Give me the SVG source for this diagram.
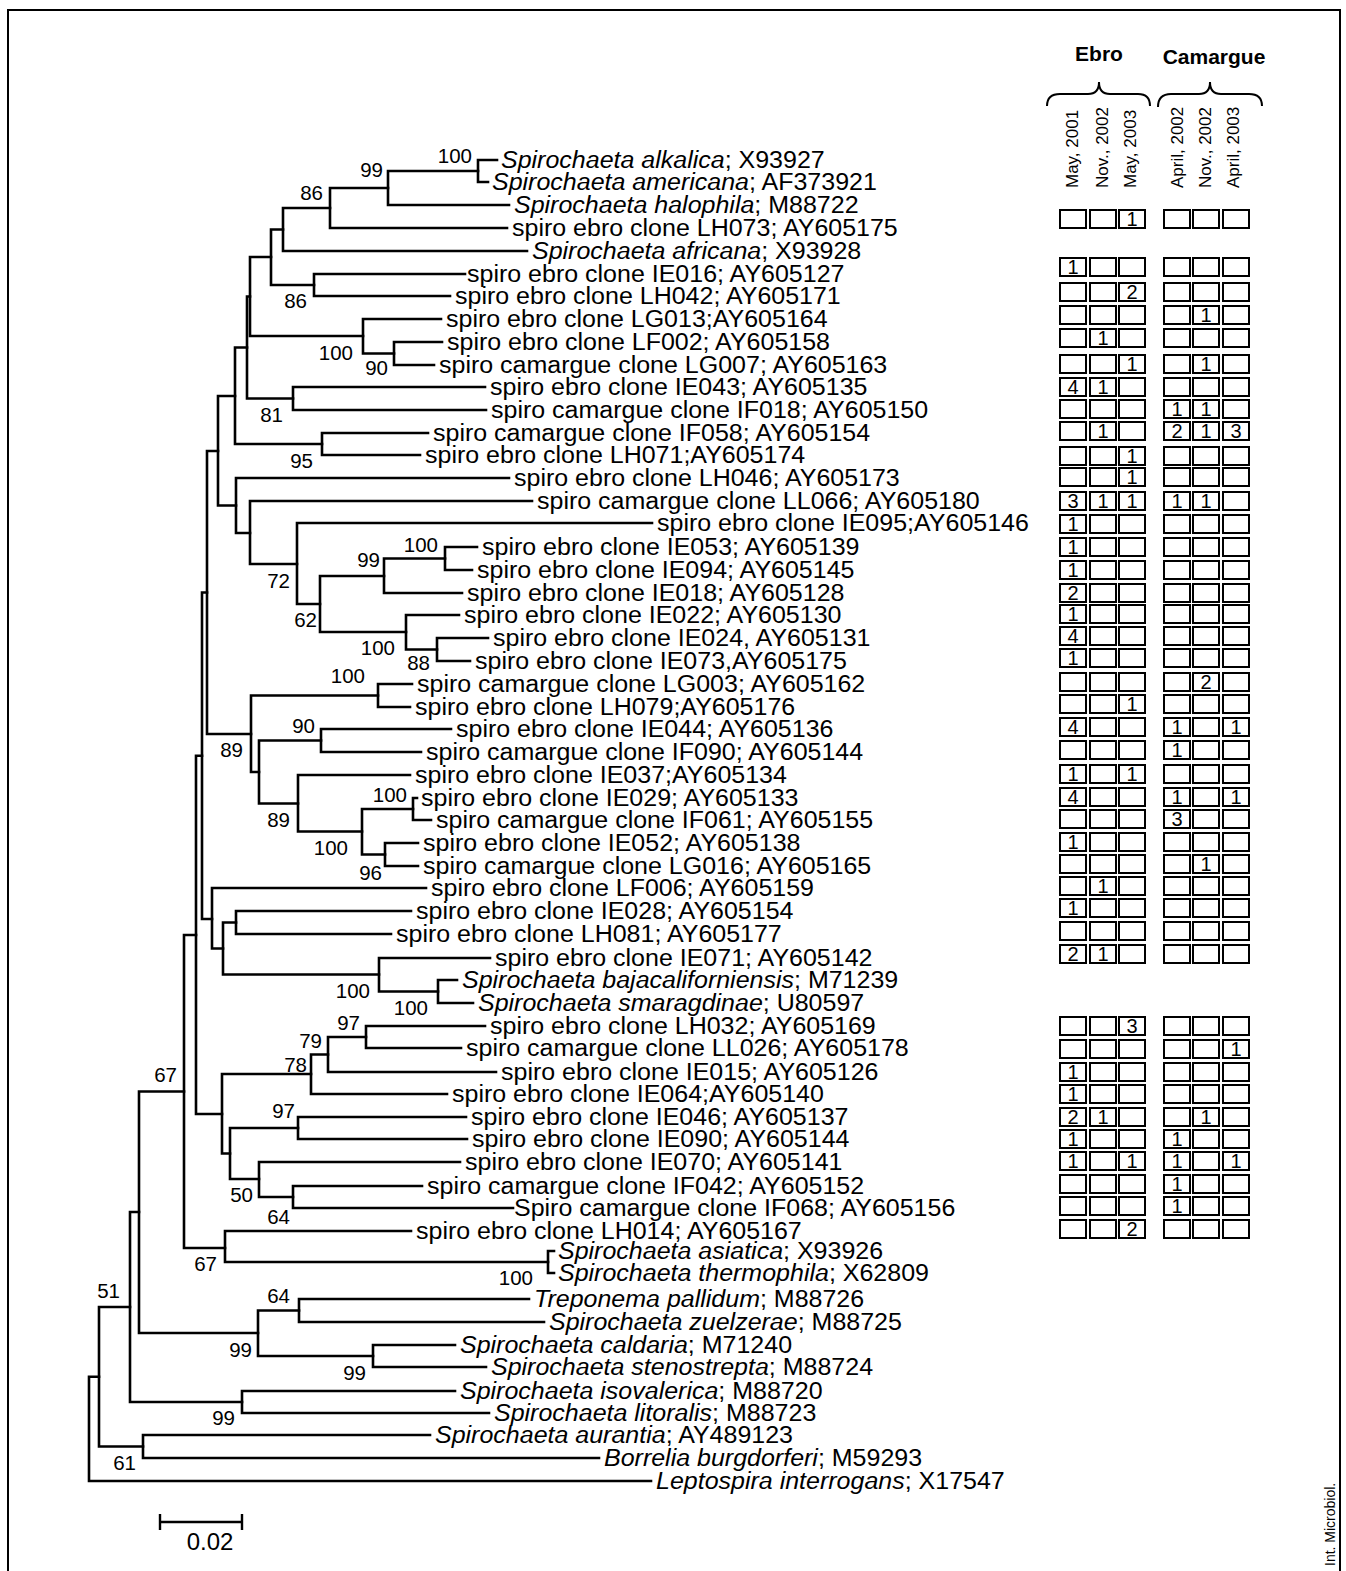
<svg xmlns="http://www.w3.org/2000/svg" xmlns:xlink="http://www.w3.org/1999/xlink" width="1346" height="1571" viewBox="0 0 1346 1571">
<style>
text { font-family: "Liberation Sans", Arial, Helvetica, sans-serif; fill: #000; }
.lf { font-size: 23.5px; }
.it { font-style: italic; }
.bs { font-size: 20.5px; text-anchor: end; }
.tree path { stroke: #000; stroke-width: 2.6; fill: none; stroke-linecap: square; }
.box { fill: #fff; stroke: #000; stroke-width: 2; }
.cnt { font-size: 20px; text-anchor: middle; }
.hd { font-size: 21px; font-weight: bold; text-anchor: middle; }
.col { font-size: 17px; }
.frame { fill: none; stroke: #000; stroke-width: 2; }
</style>
<defs>
<g id="row">
<rect class="box" x="1060" y="-9" width="26" height="18"/>
<rect class="box" x="1090" y="-9" width="26" height="18"/>
<rect class="box" x="1119" y="-9" width="26" height="18"/>
<rect class="box" x="1164" y="-9" width="26" height="18"/>
<rect class="box" x="1193" y="-9" width="26" height="18"/>
<rect class="box" x="1223" y="-9" width="26" height="18"/>
</g>
</defs>
<rect width="1346" height="1571" fill="#fff"/>
<path class="frame" d="M8 1571V10H1340V1571"/>

<g id="connectors" class="tree">
<path d="M478 160V182M478 160H497M478 182H488"/>
<path d="M388 171V205M388 171H478M388 205H509"/>
<path d="M330 188V228M330 188H388M330 228H507"/>
<path d="M283 208V251M283 208H330M283 251H527"/>
<path d="M271 229.5V285M271 229.5H283M271 285H314"/>
<path d="M314 274V296M314 274H465M314 296H450"/>
<path d="M250 257V336M250 257H271M250 336H363"/>
<path d="M363 319V353.5M363 319H441M363 353.5H394"/>
<path d="M394 342V365M394 342H442M394 365H434"/>
<path d="M247 296.5V398.5M247 296.5H250M247 398.5H293"/>
<path d="M293 387V410M293 387H485M293 410H486"/>
<path d="M235 347.5V444M235 347.5H247M235 444H322"/>
<path d="M322 433V455M322 433H428M322 455H420"/>
<path d="M218 396V505.5M218 396H235M218 505.5H236"/>
<path d="M236 478V533M236 478H509M236 533H250"/>
<path d="M250 501V564M250 501H532M250 564H297"/>
<path d="M297 523V604M297 523H652M297 604H320"/>
<path d="M320 576V632M320 576H384M320 632H406"/>
<path d="M384 558.5V593M384 558.5H445M384 593H462"/>
<path d="M445 547V570M445 547H477M445 570H472"/>
<path d="M406 615V649.5M406 615H459M406 649.5H437"/>
<path d="M437 638V661M437 638H488M437 661H470"/>
<path d="M207 451V734M207 451H218M207 734H251"/>
<path d="M251 695.5V772M251 695.5H378M251 772H259"/>
<path d="M378 684V707M378 684H412M378 707H410"/>
<path d="M259 740.5V803.5M259 740.5H321M259 803.5H298"/>
<path d="M321 729V752M321 729H451M321 752H421"/>
<path d="M298 775V831.5M298 775H410M298 831.5H362"/>
<path d="M362 809V854.5M362 809H413M362 854.5H385"/>
<path d="M413 798V820M413 798H417M413 820H431"/>
<path d="M385 843V866M385 843H418M385 866H418"/>
<path d="M202 592.5V919M202 592.5H207M202 919H212"/>
<path d="M212 888V948.5M212 888H426M212 948.5H223"/>
<path d="M223 922.5V974.5M223 922.5H236M223 974.5H379"/>
<path d="M236 911V934M236 911H411M236 934H391"/>
<path d="M379 958V991.5M379 958H490M379 991.5H438"/>
<path d="M438 980V1003M438 980H457M438 1003H473"/>
<path d="M196 755.75V1114M196 755.75H202M196 1114H222"/>
<path d="M222 1074V1153.5M222 1074H311M222 1153.5H230"/>
<path d="M311 1054.5V1094M311 1054.5H328M311 1094H447"/>
<path d="M328 1037V1072M328 1037H366M328 1072H496"/>
<path d="M366 1026V1048M366 1026H485M366 1048H461"/>
<path d="M230 1128V1179M230 1128H298M230 1179H259"/>
<path d="M298 1117V1139M298 1117H466M298 1139H467"/>
<path d="M259 1162V1197M259 1162H460M259 1197H293"/>
<path d="M293 1186V1208M293 1186H422M293 1208H513"/>
<path d="M184 935V1248M184 935H196M184 1248H225"/>
<path d="M225 1231V1262M225 1231H411M225 1262H548"/>
<path d="M548 1251V1273M548 1251H554M548 1273H554"/>
<path d="M139 1091.5V1333M139 1091.5H184M139 1333H258"/>
<path d="M258 1310.5V1356M258 1310.5H299M258 1356H373"/>
<path d="M299 1299V1322M299 1299H529M299 1322H544"/>
<path d="M373 1345V1367M373 1345H455M373 1367H486"/>
<path d="M130 1212V1402M130 1212H139M130 1402H242"/>
<path d="M242 1391V1413M242 1391H455M242 1413H489"/>
<path d="M99 1307V1446.5M99 1307H130M99 1446.5H143"/>
<path d="M143 1435V1458M143 1435H430M143 1458H599"/>
<path d="M89 1376.75V1481M89 1376.75H99M89 1481H651"/>
</g>

<g id="bootstrap" class="bs">
<text x="472" y="163">100</text>
<text x="383" y="177">99</text>
<text x="323" y="200">86</text>
<text x="307" y="308">86</text>
<text x="353" y="360">100</text>
<text x="388" y="375">90</text>
<text x="283" y="422">81</text>
<text x="313" y="468">95</text>
<text x="438" y="552">100</text>
<text x="380" y="567">99</text>
<text x="290" y="588">72</text>
<text x="317" y="627">62</text>
<text x="395" y="655">100</text>
<text x="430" y="670">88</text>
<text x="365" y="683">100</text>
<text x="315" y="733">90</text>
<text x="243" y="757">89</text>
<text x="407" y="802">100</text>
<text x="290" y="827">89</text>
<text x="348" y="855">100</text>
<text x="382" y="880">96</text>
<text x="370" y="998">100</text>
<text x="428" y="1015">100</text>
<text x="360" y="1030">97</text>
<text x="322" y="1048">79</text>
<text x="307" y="1072">78</text>
<text x="177" y="1082">67</text>
<text x="295" y="1118">97</text>
<text x="253" y="1202">50</text>
<text x="290" y="1224">64</text>
<text x="217" y="1271">67</text>
<text x="533" y="1285">100</text>
<text x="120" y="1298">51</text>
<text x="290" y="1303">64</text>
<text x="252" y="1357">99</text>
<text x="366" y="1380">99</text>
<text x="235" y="1425">99</text>
<text x="136" y="1470">61</text>
</g>

<g id="leaves" class="lf">
<g id="leaf01"><text transform="translate(501,168) scale(1.064,1)"><tspan class="it">Spirochaeta alkalica</tspan>; X93927</text></g>
<g id="leaf02"><text transform="translate(492,190) scale(1.064,1)"><tspan class="it">Spirochaeta americana</tspan>; AF373921</text></g>
<g id="leaf03"><text transform="translate(514,213) scale(1.064,1)"><tspan class="it">Spirochaeta halophila</tspan>; M88722</text></g>
<g id="leaf04"><text transform="translate(512,236) scale(1.064,1)">spiro ebro clone LH073; AY605175</text></g>
<g id="leaf05"><text transform="translate(532,259) scale(1.064,1)"><tspan class="it">Spirochaeta africana</tspan>; X93928</text></g>
<g id="leaf06"><text transform="translate(467,282) scale(1.064,1)">spiro ebro clone IE016; AY605127</text></g>
<g id="leaf07"><text transform="translate(455,304) scale(1.064,1)">spiro ebro clone LH042; AY605171</text></g>
<g id="leaf08"><text transform="translate(446,327) scale(1.064,1)">spiro ebro clone LG013;AY605164</text></g>
<g id="leaf09"><text transform="translate(447,350) scale(1.064,1)">spiro ebro clone LF002; AY605158</text></g>
<g id="leaf10"><text transform="translate(439,373) scale(1.064,1)">spiro camargue clone LG007; AY605163</text></g>
<g id="leaf11"><text transform="translate(490,395) scale(1.064,1)">spiro ebro clone IE043; AY605135</text></g>
<g id="leaf12"><text transform="translate(491,418) scale(1.064,1)">spiro camargue clone IF018; AY605150</text></g>
<g id="leaf13"><text transform="translate(433,441) scale(1.064,1)">spiro camargue clone IF058; AY605154</text></g>
<g id="leaf14"><text transform="translate(425,463) scale(1.064,1)">spiro ebro clone LH071;AY605174</text></g>
<g id="leaf15"><text transform="translate(514,486) scale(1.064,1)">spiro ebro clone LH046; AY605173</text></g>
<g id="leaf16"><text transform="translate(537,509) scale(1.064,1)">spiro camargue clone LL066; AY605180</text></g>
<g id="leaf17"><text transform="translate(657,531) scale(1.064,1)">spiro ebro clone IE095;AY605146</text></g>
<g id="leaf18"><text transform="translate(482,555) scale(1.064,1)">spiro ebro clone IE053; AY605139</text></g>
<g id="leaf19"><text transform="translate(477,578) scale(1.064,1)">spiro ebro clone IE094; AY605145</text></g>
<g id="leaf20"><text transform="translate(467,601) scale(1.064,1)">spiro ebro clone IE018; AY605128</text></g>
<g id="leaf21"><text transform="translate(464,623) scale(1.064,1)">spiro ebro clone IE022; AY605130</text></g>
<g id="leaf22"><text transform="translate(493,646) scale(1.064,1)">spiro ebro clone IE024, AY605131</text></g>
<g id="leaf23"><text transform="translate(475,669) scale(1.064,1)">spiro ebro clone IE073,AY605175</text></g>
<g id="leaf24"><text transform="translate(417,692) scale(1.064,1)">spiro camargue clone LG003; AY605162</text></g>
<g id="leaf25"><text transform="translate(415,715) scale(1.064,1)">spiro ebro clone LH079;AY605176</text></g>
<g id="leaf26"><text transform="translate(456,737) scale(1.064,1)">spiro ebro clone IE044; AY605136</text></g>
<g id="leaf27"><text transform="translate(426,760) scale(1.064,1)">spiro camargue clone IF090; AY605144</text></g>
<g id="leaf28"><text transform="translate(415,783) scale(1.064,1)">spiro ebro clone IE037;AY605134</text></g>
<g id="leaf29"><text transform="translate(421,806) scale(1.064,1)">spiro ebro clone IE029; AY605133</text></g>
<g id="leaf30"><text transform="translate(436,828) scale(1.064,1)">spiro camargue clone IF061; AY605155</text></g>
<g id="leaf31"><text transform="translate(423,851) scale(1.064,1)">spiro ebro clone IE052; AY605138</text></g>
<g id="leaf32"><text transform="translate(423,874) scale(1.064,1)">spiro camargue clone LG016; AY605165</text></g>
<g id="leaf33"><text transform="translate(431,896) scale(1.064,1)">spiro ebro clone LF006; AY605159</text></g>
<g id="leaf34"><text transform="translate(416,919) scale(1.064,1)">spiro ebro clone IE028; AY605154</text></g>
<g id="leaf35"><text transform="translate(396,942) scale(1.064,1)">spiro ebro clone LH081; AY605177</text></g>
<g id="leaf36"><text transform="translate(495,966) scale(1.064,1)">spiro ebro clone IE071; AY605142</text></g>
<g id="leaf37"><text transform="translate(462,988) scale(1.064,1)"><tspan class="it">Spirochaeta bajacaliforniensis</tspan>; M71239</text></g>
<g id="leaf38"><text transform="translate(478,1011) scale(1.064,1)"><tspan class="it">Spirochaeta smaragdinae</tspan>; U80597</text></g>
<g id="leaf39"><text transform="translate(490,1034) scale(1.064,1)">spiro ebro clone LH032; AY605169</text></g>
<g id="leaf40"><text transform="translate(466,1056) scale(1.064,1)">spiro camargue clone LL026; AY605178</text></g>
<g id="leaf41"><text transform="translate(501,1080) scale(1.064,1)">spiro ebro clone IE015; AY605126</text></g>
<g id="leaf42"><text transform="translate(452,1102) scale(1.064,1)">spiro ebro clone IE064;AY605140</text></g>
<g id="leaf43"><text transform="translate(471,1125) scale(1.064,1)">spiro ebro clone IE046; AY605137</text></g>
<g id="leaf44"><text transform="translate(472,1147) scale(1.064,1)">spiro ebro clone IE090; AY605144</text></g>
<g id="leaf45"><text transform="translate(465,1170) scale(1.064,1)">spiro ebro clone IE070; AY605141</text></g>
<g id="leaf46"><text transform="translate(427,1194) scale(1.064,1)">spiro camargue clone IF042; AY605152</text></g>
<g id="leaf47"><text transform="translate(514,1216) scale(1.064,1)">Spiro camargue clone IF068; AY605156</text></g>
<g id="leaf48"><text transform="translate(416,1239) scale(1.064,1)">spiro ebro clone LH014; AY605167</text></g>
<g id="leaf49"><text transform="translate(558,1259) scale(1.064,1)"><tspan class="it">Spirochaeta asiatica</tspan>; X93926</text></g>
<g id="leaf50"><text transform="translate(558,1281) scale(1.064,1)"><tspan class="it">Spirochaeta thermophila</tspan>; X62809</text></g>
<g id="leaf51"><text transform="translate(534,1307) scale(1.064,1)"><tspan class="it">Treponema pallidum</tspan>; M88726</text></g>
<g id="leaf52"><text transform="translate(549,1330) scale(1.064,1)"><tspan class="it">Spirochaeta zuelzerae</tspan>; M88725</text></g>
<g id="leaf53"><text transform="translate(460,1353) scale(1.064,1)"><tspan class="it">Spirochaeta caldaria</tspan>; M71240</text></g>
<g id="leaf54"><text transform="translate(491,1375) scale(1.064,1)"><tspan class="it">Spirochaeta stenostrepta</tspan>; M88724</text></g>
<g id="leaf55"><text transform="translate(460,1399) scale(1.064,1)"><tspan class="it">Spirochaeta isovalerica</tspan>; M88720</text></g>
<g id="leaf56"><text transform="translate(494,1421) scale(1.064,1)"><tspan class="it">Spirochaeta litoralis</tspan>; M88723</text></g>
<g id="leaf57"><text transform="translate(435,1443) scale(1.064,1)"><tspan class="it">Spirochaeta aurantia</tspan>; AY489123</text></g>
<g id="leaf58"><text transform="translate(604,1466) scale(1.064,1)"><tspan class="it">Borrelia burgdorferi</tspan>; M59293</text></g>
<g id="leaf59"><text transform="translate(656,1489) scale(1.064,1)"><tspan class="it">Leptospira interrogans</tspan>; X17547</text></g>
</g>

<g id="scalebar">
<path d="M160 1522H242M160 1514V1530M242 1514V1530" stroke="#000" stroke-width="2.4" fill="none"/>
<text x="210" y="1550" font-size="24" text-anchor="middle">0.02</text>
</g>

<g id="header">
<text class="hd" x="1099" y="61">Ebro</text>
<text class="hd" x="1214" y="64">Camargue</text>
<path d="M1047 106Q1047 94 1060 94H1088Q1099 94 1099 82Q1099 94 1110 94H1138Q1150 94 1150 106" fill="none" stroke="#000" stroke-width="2"/>
<path d="M1158 107Q1158 94 1171 94H1199Q1210 94 1210 82Q1210 94 1221 94H1249Q1262 94 1262 106" fill="none" stroke="#000" stroke-width="2"/>
<text class="col" transform="translate(1078,188) rotate(-90)">May, 2001</text>
<text class="col" transform="translate(1108,188) rotate(-90)">Nov., 2002</text>
<text class="col" transform="translate(1136,188) rotate(-90)">May, 2003</text>
<text class="col" transform="translate(1183,188) rotate(-90)">April, 2002</text>
<text class="col" transform="translate(1211,188) rotate(-90)">Nov., 2002</text>
<text class="col" transform="translate(1239,188) rotate(-90)">April, 2003</text>
</g>

<g id="counts" class="cnt">
<use xlink:href="#row" y="219"/><text x="1132" y="226">1</text>
<use xlink:href="#row" y="267"/><text x="1073" y="274">1</text>
<use xlink:href="#row" y="292"/><text x="1132" y="299">2</text>
<use xlink:href="#row" y="315"/><text x="1206" y="322">1</text>
<use xlink:href="#row" y="338"/><text x="1103" y="345">1</text>
<use xlink:href="#row" y="364"/><text x="1132" y="371">1</text><text x="1206" y="371">1</text>
<use xlink:href="#row" y="387"/><text x="1073" y="394">4</text><text x="1103" y="394">1</text>
<use xlink:href="#row" y="409"/><text x="1177" y="416">1</text><text x="1206" y="416">1</text>
<use xlink:href="#row" y="431"/><text x="1103" y="438">1</text><text x="1177" y="438">2</text><text x="1206" y="438">1</text><text x="1236" y="438">3</text>
<use xlink:href="#row" y="456"/><text x="1132" y="463">1</text>
<use xlink:href="#row" y="477"/><text x="1132" y="484">1</text>
<use xlink:href="#row" y="501"/><text x="1073" y="508">3</text><text x="1103" y="508">1</text><text x="1132" y="508">1</text><text x="1177" y="508">1</text><text x="1206" y="508">1</text>
<use xlink:href="#row" y="524"/><text x="1073" y="531">1</text>
<use xlink:href="#row" y="547"/><text x="1073" y="554">1</text>
<use xlink:href="#row" y="570"/><text x="1073" y="577">1</text>
<use xlink:href="#row" y="593"/><text x="1073" y="600">2</text>
<use xlink:href="#row" y="614"/><text x="1073" y="621">1</text>
<use xlink:href="#row" y="636"/><text x="1073" y="643">4</text>
<use xlink:href="#row" y="658"/><text x="1073" y="665">1</text>
<use xlink:href="#row" y="682"/><text x="1206" y="689">2</text>
<use xlink:href="#row" y="704"/><text x="1132" y="711">1</text>
<use xlink:href="#row" y="727"/><text x="1073" y="734">4</text><text x="1177" y="734">1</text><text x="1236" y="734">1</text>
<use xlink:href="#row" y="750"/><text x="1177" y="757">1</text>
<use xlink:href="#row" y="774"/><text x="1073" y="781">1</text><text x="1132" y="781">1</text>
<use xlink:href="#row" y="797"/><text x="1073" y="804">4</text><text x="1177" y="804">1</text><text x="1236" y="804">1</text>
<use xlink:href="#row" y="819"/><text x="1177" y="826">3</text>
<use xlink:href="#row" y="842"/><text x="1073" y="849">1</text>
<use xlink:href="#row" y="864"/><text x="1206" y="871">1</text>
<use xlink:href="#row" y="886"/><text x="1103" y="893">1</text>
<use xlink:href="#row" y="908"/><text x="1073" y="915">1</text>
<use xlink:href="#row" y="931"/>
<use xlink:href="#row" y="954"/><text x="1073" y="961">2</text><text x="1103" y="961">1</text>
<use xlink:href="#row" y="1026"/><text x="1132" y="1033">3</text>
<use xlink:href="#row" y="1049"/><text x="1236" y="1056">1</text>
<use xlink:href="#row" y="1072"/><text x="1073" y="1079">1</text>
<use xlink:href="#row" y="1094"/><text x="1073" y="1101">1</text>
<use xlink:href="#row" y="1117"/><text x="1073" y="1124">2</text><text x="1103" y="1124">1</text><text x="1206" y="1124">1</text>
<use xlink:href="#row" y="1139"/><text x="1073" y="1146">1</text><text x="1177" y="1146">1</text>
<use xlink:href="#row" y="1161"/><text x="1073" y="1168">1</text><text x="1132" y="1168">1</text><text x="1177" y="1168">1</text><text x="1236" y="1168">1</text>
<use xlink:href="#row" y="1184"/><text x="1177" y="1191">1</text>
<use xlink:href="#row" y="1206"/><text x="1177" y="1213">1</text>
<use xlink:href="#row" y="1229"/><text x="1132" y="1236">2</text>
</g>

<text transform="translate(1335,1566) rotate(-90)" font-size="14">Int. Microbiol.</text>
</svg>
